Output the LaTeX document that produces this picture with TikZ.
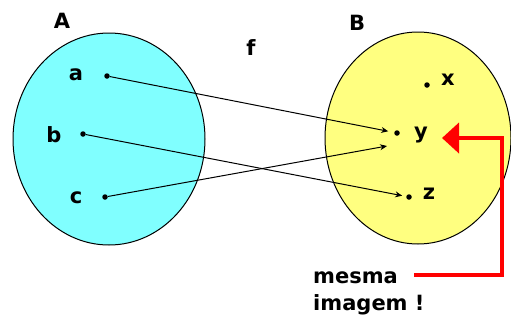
\documentclass[tikz,border=0pt]{standalone}
\usepackage{fontspec}
\setmainfont{DejaVu Sans}
\usetikzlibrary{arrows.meta}
\definecolor{setA}{RGB}{128,255,255}
\definecolor{setB}{RGB}{255,255,128}

\begin{document}
\begin{tikzpicture}[x=1pt, y=-1pt, >={Stealth[length=7pt,width=6pt]},
  lbl/.style={font=\fontsize{21}{24}\selectfont\bfseries, inner sep=0pt, anchor=base},
  elem/.style={circle, fill=black, inner sep=0pt, minimum size=5.5pt},
  map/.style={->, line width=1pt},
  redarrow/.style={red, line width=4pt, -{Triangle[length=17pt,width=30pt]}}]
  \useasboundingbox (0,0) rectangle (511,322);
  % the two sets
  \draw[line width=1pt, fill=setA] (109,139) ellipse [x radius=96, y radius=106];
  \draw[line width=1pt, fill=setB] (418,138) ellipse [x radius=93, y radius=106];
  \node[lbl] (A) at (62,28) {A};
  \node[lbl] (B) at (357,30) {B};
  \node[lbl] (f) at (251,55) {f};
  % domain A
  \node[elem] (a) at (107,76) {};
  \node[elem] (b) at (83,134) {};
  \node[elem] (c) at (105,197) {};
  \node[lbl] (la) at (76,80) {a};
  \node[lbl] (lb) at (54,142) {b};
  \node[lbl] (lc) at (76,203) {c};
  % codomain B
  \node[elem] (x) at (427,85) {};
  \node[elem] (y) at (397,133) {};
  \node[elem] (z) at (409,197) {};
  \node[lbl] (lx) at (448,85) {x};
  \node[lbl] (ly) at (421,138) {y};
  \node[lbl] (lz) at (429,199) {z};
  \coordinate (yc) at (387,146);
  % the mapping f
  \draw[map, shorten >=6pt] (a) -- (y);
  \draw[map, shorten >=4pt] (b) -- (z);
  \draw[map] (c) -- (yc);
  % note
  \node[lbl, anchor=base west] (mesma) at (313,283) {mesma};
  \node[lbl, anchor=base west] (imagem) at (313,310) {imagem !};
  \coordinate (turn) at (502,138);
  \coordinate (hit) at (442,138);
  \draw[redarrow] ([xshift=16pt,yshift=2pt]mesma.east) -| (turn) -- (hit);
\end{tikzpicture}
\end{document}
